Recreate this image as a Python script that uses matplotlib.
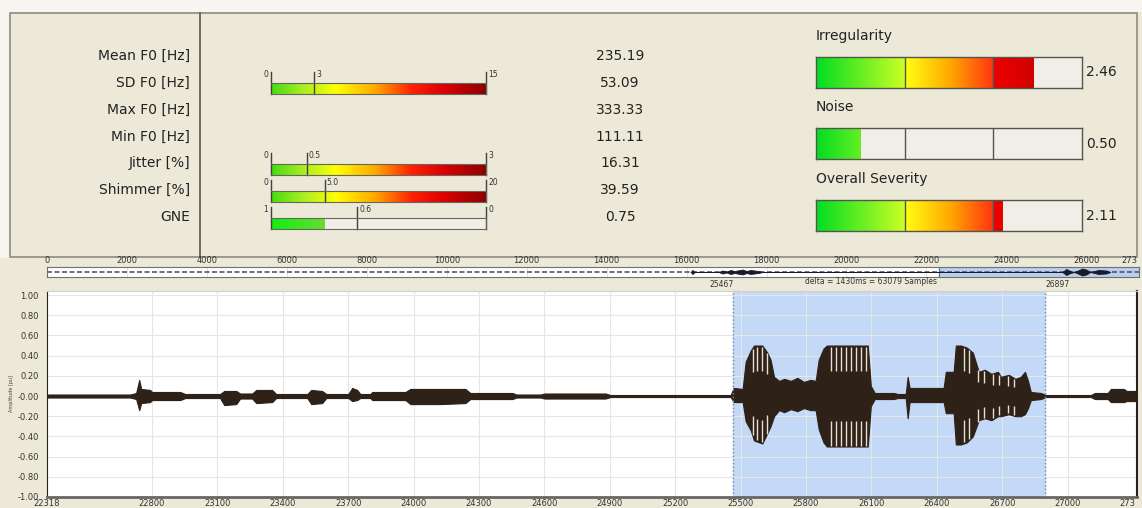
import numpy as np
import matplotlib
matplotlib.use('Agg')
import matplotlib.pyplot as plt
from matplotlib.colors import LinearSegmentedColormap
from matplotlib.patches import Rectangle

plt.rcParams['font.family'] = ['DejaVu Sans']

# --- voice report values ---
param_names = ['Mean F0 [Hz]', 'SD F0 [Hz]', 'Max F0 [Hz]', 'Min F0 [Hz]',
               'Jitter [%]', 'Shimmer [%]', 'GNE']
param_values = [235.19, 53.09, 333.33, 111.11, 16.31, 39.59, 0.75]

# gauge scales: (start, threshold, end) and their printed labels
sd_scale = [0, 3, 15]
jitter_scale = [0, 0.5, 3]
shimmer_scale = [0, 5.0, 20]
gne_scale = [1, 0.6, 0]
sd_labels = ['0', '3', '15']
jitter_labels = ['0', '0.5', '3']
shimmer_labels = ['0', '5.0', '20']
gne_labels = ['1', '0.6', '0']

severity_names = ['Irregularity', 'Noise', 'Overall Severity']
severity_values = [2.46, 0.50, 2.11]
severity_max = 3

# --- waveform envelope (time in ms, amplitude) ---
wave_t = [22318, 22700, 22727, 22741, 22750, 22791, 22800, 22929, 22952, 23112,
          23131, 23186, 23204, 23259, 23278, 23351, 23369, 23512, 23530, 23580,
          23599, 23700, 23718, 23741, 23755, 23801, 23810, 23962, 23985, 24122,
          24237, 24260, 24453, 24471, 24582, 24600, 24880, 24903, 25454, 25468,
          25509, 25523, 25546, 25561, 25599, 25622, 25637, 25653, 25676, 25700,
          25730, 25760, 25790, 25820, 25844, 25858, 25880, 25895, 26083, 26097,
          26115, 26202, 26221, 26257, 26266, 26275, 26431, 26441, 26477, 26487,
          26510, 26537, 26565, 26592, 26620, 26650, 26680, 26694, 26730, 26760,
          26785, 26804, 26818, 26831, 26877, 26900, 27106, 27125, 27184, 27198,
          27257, 27271, 27318]
wave_hi = [0.015, 0.015, 0.03, 0.16, 0.07, 0.06, 0.04, 0.04, 0.02, 0.02,
           0.05, 0.05, 0.025, 0.025, 0.06, 0.06, 0.02, 0.02, 0.06, 0.05,
           0.02, 0.02, 0.08, 0.06, 0.02, 0.02, 0.04, 0.04, 0.07, 0.07,
           0.07, 0.03, 0.03, 0.015, 0.015, 0.025, 0.025, 0.01, 0.01, 0.08,
           0.07, 0.34, 0.45, 0.50, 0.50, 0.43, 0.36, 0.19, 0.15, 0.17,
           0.15, 0.18, 0.14, 0.16, 0.15, 0.36, 0.47, 0.50, 0.50, 0.10,
           0.03, 0.03, 0.02, 0.02, 0.19, 0.08, 0.08, 0.24, 0.24, 0.50,
           0.50, 0.48, 0.43, 0.24, 0.26, 0.22, 0.24, 0.19, 0.21, 0.17,
           0.19, 0.24, 0.15, 0.04, 0.03, 0.01, 0.01, 0.03, 0.03, 0.07,
           0.07, 0.05, 0.05]
wave_lo = [-0.015, -0.015, -0.03, -0.14, -0.07, -0.06, -0.04, -0.04, -0.02, -0.02,
           -0.09, -0.08, -0.025, -0.025, -0.07, -0.06, -0.02, -0.02, -0.08, -0.07,
           -0.02, -0.02, -0.05, -0.04, -0.02, -0.02, -0.04, -0.04, -0.08, -0.08,
           -0.07, -0.03, -0.03, -0.015, -0.015, -0.025, -0.025, -0.01, -0.01, -0.06,
           -0.06, -0.25, -0.34, -0.44, -0.47, -0.37, -0.30, -0.20, -0.14, -0.16,
           -0.13, -0.15, -0.12, -0.14, -0.14, -0.33, -0.46, -0.50, -0.50, -0.10,
           -0.03, -0.03, -0.02, -0.02, -0.22, -0.06, -0.06, -0.17, -0.17, -0.48,
           -0.48, -0.46, -0.40, -0.24, -0.22, -0.24, -0.20, -0.20, -0.18, -0.20,
           -0.20, -0.18, -0.12, -0.04, -0.03, -0.01, -0.01, -0.03, -0.03, -0.06,
           -0.06, -0.05, -0.05]
# light gaps between glottal pulses in the loud parts
pulse_t = [25555, 25574, 25596, 25619, 25913, 25936, 25959, 25982, 26005, 26028,
           26051, 26074, 26524, 26547, 26588, 26616, 26657, 26685, 26726, 26754]

view_start, view_end = 22318, 27318
sel_start, sel_end = 25467, 26897
delta_text = 'delta = 1430ms = 63079 Samples'
total_len = 27318

# overview strip blobs (time, half height in strip units)
ov_t = [16100, 16150, 16200, 16800, 16900, 17000, 17100, 17200, 17400, 17500,
        17600, 17800, 17900, 25400, 25500, 25600, 25700, 25900, 26000, 26100,
        26300, 26500, 26600]
ov_amp = [0, 0.2, 0, 0, 0.15, 0.05, 0.2, 0.1, 0.25, 0.1,
          0.2, 0.1, 0, 0, 0.3, 0.1, 0, 0.35, 0.25, 0,
          0.2, 0.15, 0]

W, H = 1142, 508
BEIGE = '#ECE9D8'
fig = plt.figure(figsize=(W / 100, H / 100), dpi=100, facecolor=BEIGE)


def px_axes(x0, y0, x1, y1):
    return fig.add_axes([x0 / W, 1 - y1 / H, (x1 - x0) / W, (y1 - y0) / H])


# background layer in pixel units
bg = px_axes(0, 0, W, H)
bg.set_xlim(0, W)
bg.set_ylim(H, 0)
bg.axis('off')
bg.add_patch(Rectangle((0, 0), W, 12, color='#F6F5F0', lw=0))
bg.add_patch(Rectangle((0, 0), 10, 258, color='#F6F5F0', lw=0))
bg.add_patch(Rectangle((10, 13), 1127, 244, facecolor=BEIGE, edgecolor='#8e8b80', lw=1.2))
bg.plot([200, 200], [13, 257], color='#5a5850', lw=1.2)

label_y = [56, 83, 110, 137, 163, 190, 217]
for name, val, y in zip(param_names, param_values, label_y):
    bg.text(190, y, name, ha='right', va='center', fontsize=10, color='#222222')
    bg.text(620, y, f'{val:.2f}', ha='center', va='center', fontsize=10, color='#222222')

left_cmap = LinearSegmentedColormap.from_list('lg', [
    (0.0, '#44dd11'), (0.15, '#aaee22'), (0.3, '#ffff00'), (0.48, '#ffaa00'),
    (0.65, '#ff2200'), (0.8, '#dd0000'), (1.0, '#8b0000')])
gne_cmap = LinearSegmentedColormap.from_list('gn', ['#11ee11', '#66dd33'])
seg_cmaps = [
    LinearSegmentedColormap.from_list('s0', ['#00dd22', '#ccff22']),
    LinearSegmentedColormap.from_list('s1', ['#ffff11', '#ffaa00', '#ff3311']),
    LinearSegmentedColormap.from_list('s2', ['#ee0000', '#b00000']),
]
grad = np.linspace(0, 1, 256)[None, :]


def left_gauge(y_top, scale, labels, value, cmap, fill_to=None):
    ax = px_axes(271, y_top, 486, y_top + 11)
    lo, mark, hi = scale
    ax.set_xlim(lo, hi)
    ax.set_ylim(0, 1)
    ax.set_facecolor('#F0EEE6')
    end = min(value, hi) if fill_to is None else fill_to
    ext = hi if fill_to is None else fill_to
    im = ax.imshow(grad, extent=(lo, ext, 0, 1), cmap=cmap, aspect='auto')
    im.set_clip_path(Rectangle((lo, 0), end - lo, 1, transform=ax.transData))
    ax.set_xlim(lo, hi)
    ax.set_xticks([])
    ax.set_yticks([])
    for s in ax.spines.values():
        s.set_color('#666660')
        s.set_linewidth(0.8)
    ax.spines['left'].set_visible(False)
    for i, (v, lab) in enumerate(zip(scale, labels)):
        ax.plot([v, v], [0, 2.0], color='#404040', lw=1, clip_on=False)
        off, ha = ((-2, 'right') if i == 0 else (1.5, 'left'))
        ax.annotate(lab, (v, 1.75), xytext=(off, 0), textcoords='offset points',
                    ha=ha, va='center', fontsize=5.5, color='#333333',
                    annotation_clip=False)
    return ax


left_gauge(83, sd_scale, sd_labels, param_values[1], left_cmap)
left_gauge(164, jitter_scale, jitter_labels, param_values[4], left_cmap)
left_gauge(191, shimmer_scale, shimmer_labels, param_values[5], left_cmap)
left_gauge(218, gne_scale, gne_labels, param_values[6], gne_cmap, fill_to=param_values[6])

# severity gauges on the right
for name, val, y_top in zip(severity_names, severity_values, [57, 128, 200]):
    ax = px_axes(816, y_top, 1082, y_top + 31)
    ax.set_xlim(0, severity_max)
    ax.set_ylim(0, 1)
    ax.set_facecolor('#F0EEE6')
    for i, cm in enumerate(seg_cmaps):
        im = ax.imshow(grad, extent=(i, i + 1, 0, 1), cmap=cm, aspect='auto')
        im.set_clip_path(Rectangle((0, 0), val, 1, transform=ax.transData))
    ax.set_xlim(0, severity_max)
    for d in range(1, severity_max):
        ax.axvline(d, color='#555550', lw=1)
    ax.set_xticks([])
    ax.set_yticks([])
    for s in ax.spines.values():
        s.set_color('#555550')
        s.set_linewidth(1)
    ax.text(1.015, 0.5, f'{val:.2f}', transform=ax.transAxes, ha='left', va='center',
            fontsize=10, color='#222222')
    ax.text(0.0, 1.68, name, transform=ax.transAxes, ha='left', va='center',
            fontsize=10, color='#222222')

# overview strip
ov = px_axes(47, 267, 1139, 277)
ov.set_xlim(0, total_len)
ov.set_ylim(0, 1)
ov.set_facecolor('white')
ov.axvspan(view_start, total_len, color='#B9CEF0', zorder=0)
ov.axvline(view_start, color='#5070a0', lw=0.8)
ov.plot([0, total_len], [0.5, 0.5], ls=(0, (3, 1.5)), color='#55556a', lw=1.2, zorder=2)
ov.fill_between(ov_t, [0.5 - a for a in ov_amp], [0.5 + a for a in ov_amp],
                color='#1a1a2a', lw=0.6, zorder=3)
ov_ticks = list(range(0, 26001, 2000))
ov.set_xticks(ov_ticks)
ov.set_xticklabels([str(v) for v in ov_ticks])
ov.xaxis.tick_top()
ov.tick_params(axis='x', length=0, pad=1.5, labelsize=6, labelcolor='#333333')
ov.set_yticks([])
ov.grid(axis='x', color='#dddddd', lw=0.6)
for s in ov.spines.values():
    s.set_color('#707070')
    s.set_linewidth(0.8)
# end label, truncated by the window edge
ov.annotate(str(total_len)[:3], (total_len, 1), xytext=(-1, 1.5), textcoords='offset points',
            ha='right', va='bottom', fontsize=6, color='#333333', annotation_clip=False)

# waveform view
ax = px_axes(47, 291, 1137, 497)
ax.set_xlim(view_start, view_end)
ax.set_ylim(-1.0, 1.04)
ax.set_facecolor('white')
ax.axvspan(sel_start, sel_end, color='#C3D9F7', zorder=0.5)
ax.set_axisbelow('line')
ax.grid(color='#e6e6e6', lw=0.8)
ax.fill_between(wave_t, wave_lo, wave_hi, color='#2e2118', lw=0.8, zorder=3)
ax.plot(wave_t, [0] * len(wave_t), color='#2e2118', lw=1, zorder=3)
p_hi = np.interp(pulse_t, wave_t, wave_hi)
p_lo = np.interp(pulse_t, wave_t, wave_lo)
ax.vlines(pulse_t, 0.5 * p_hi, p_hi - 0.01, color='#e9dfd2', lw=1, zorder=3.5)
ax.vlines(pulse_t, p_lo + 0.01, 0.5 * p_lo, color='#e9dfd2', lw=1, zorder=3.5)
for t in (sel_start, sel_end):
    ax.axvline(t, color='#7a8aa0', ls=':', lw=1, zorder=4)
ax.text(sel_start, 1.06, str(sel_start), ha='right', va='bottom', fontsize=5.5, color='#333333')
ax.text(sel_end, 1.06, str(sel_end), ha='left', va='bottom', fontsize=5.5, color='#333333')
ax.text(26100, 1.09, delta_text, ha='center', va='bottom', fontsize=5.5, color='#333333')

xt = [view_start] + list(range(22800, 27001, 300))
ax.set_xticks(xt)
ax.set_xticklabels([str(v) for v in xt])
yt = np.round(np.arange(-1.0, 1.01, 0.2), 2)
ax.set_yticks(yt)
ax.set_yticklabels(['-0.00' if abs(v) < 1e-9 else f'{v:.2f}' for v in yt])
ax.tick_params(length=0, labelsize=6, labelcolor='#333333')
ax.tick_params(axis='x', pad=1.5)
ax.tick_params(axis='y', pad=6)
ax.set_ylabel('Amplitude [pu]', fontsize=3.5, labelpad=2, color='#444444')
ax.annotate(str(view_end)[:3], (view_end, -1.0), xytext=(-1, -1.5), textcoords='offset points',
            ha='right', va='top', fontsize=6, color='#333333', annotation_clip=False)
ax.spines['top'].set_color('#cfcfcf')
ax.spines['left'].set_color('#222222')
ax.spines['right'].set_color('#222222')
ax.spines['right'].set_linewidth(1.5)
ax.spines['bottom'].set_color('#666666')
ax.spines['bottom'].set_linewidth(2)

fig.savefig('out.png', dpi=100, facecolor=fig.get_facecolor())
